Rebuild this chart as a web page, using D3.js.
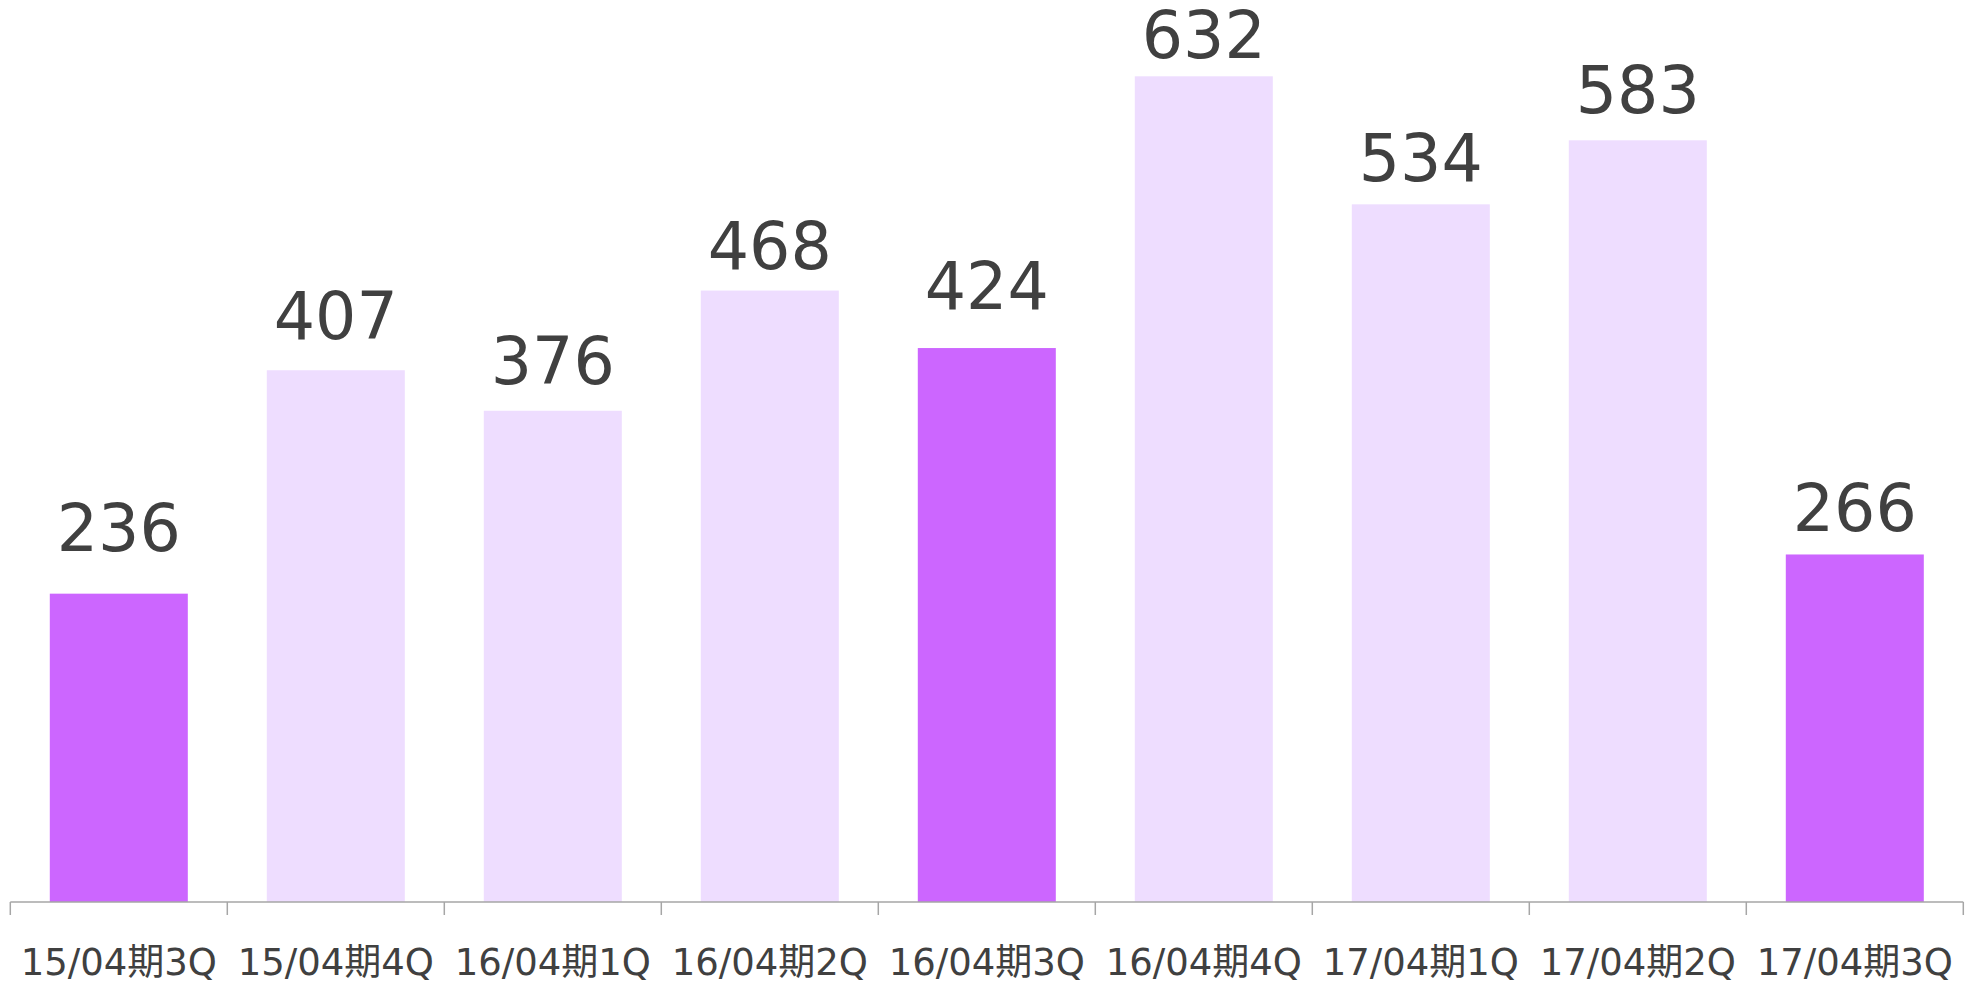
<!DOCTYPE html>
<html>
<head>
<meta charset="utf-8">
<script src="https://cdn.jsdelivr.net/npm/d3@7"></script>
<style>
  html, body { margin: 0; padding: 0; background: #fff; overflow: hidden; }
  svg { display: block; }
</style>
</head>
<body>
<svg id="chart" width="1975" height="985"></svg>
<script>
const categories = ["15/04期3Q","15/04期4Q","16/04期1Q","16/04期2Q","16/04期3Q","16/04期4Q","17/04期1Q","17/04期2Q","17/04期3Q"];
const values = [236, 407, 376, 468, 424, 632, 534, 583, 266];
const highlighted = ["15/04期3Q","16/04期3Q","17/04期3Q"];

// layout: distance from bar top to the value label baseline (px), as placed in the original
const labelGap = [43, 31, 27, 22, 39, 18, 23, 27, 23.5];

const svg = d3.select("#chart");
const axisY = 902;
const x = d3.scaleBand().domain(categories).range([10.3, 1963.3]).paddingInner(0.364).paddingOuter(0.182);
const y = d3.scaleLinear().domain([0, 700]).range([axisY, axisY - 1.3065 * 700]);

const font = "'DejaVu Sans', 'Noto Sans CJK JP', sans-serif";

svg.selectAll("rect.bar").data(values).enter().append("rect")
  .attr("class", "bar")
  .attr("x", (d, i) => x(categories[i]))
  .attr("width", x.bandwidth())
  .attr("y", d => y(d))
  .attr("height", d => y(0) - y(d))
  .attr("fill", (d, i) => highlighted.includes(categories[i]) ? "#CC66FF" : "#EEDDFF");

svg.selectAll("text.val").data(values).enter().append("text")
  .attr("class", "val")
  .attr("x", (d, i) => x(categories[i]) + x.bandwidth() / 2)
  .attr("y", (d, i) => y(d) - labelGap[i])
  .attr("text-anchor", "middle")
  .attr("font-family", font)
  .attr("font-size", 65)
  .attr("fill", "#404040")
  .text(d => d);

// category axis
const axis = d3.axisBottom(x).tickSize(0).tickPadding(0);
const g = svg.append("g").attr("transform", `translate(0,${axisY})`).call(axis);
g.select(".domain").remove();
g.selectAll(".tick line").remove();
g.selectAll(".tick text")
  .attr("y", 73)
  .attr("dy", 0)
  .attr("font-family", font)
  .attr("font-size", 37)
  .attr("fill", "#404040");

// axis line and boundary ticks between categories
const step = x.step();
const x0 = x.range()[0];
const boundaries = d3.range(categories.length + 1).map(i => x0 + i * step);
svg.append("line")
  .attr("x1", x0).attr("x2", x.range()[1])
  .attr("y1", axisY).attr("y2", axisY)
  .attr("stroke", "#A6A6A6").attr("stroke-width", 1.5);
svg.selectAll("line.btick").data(boundaries).enter().append("line")
  .attr("class", "btick")
  .attr("x1", d => d).attr("x2", d => d)
  .attr("y1", axisY).attr("y2", axisY + 13)
  .attr("stroke", "#A6A6A6").attr("stroke-width", 1.5);
</script>
</body>
</html>
